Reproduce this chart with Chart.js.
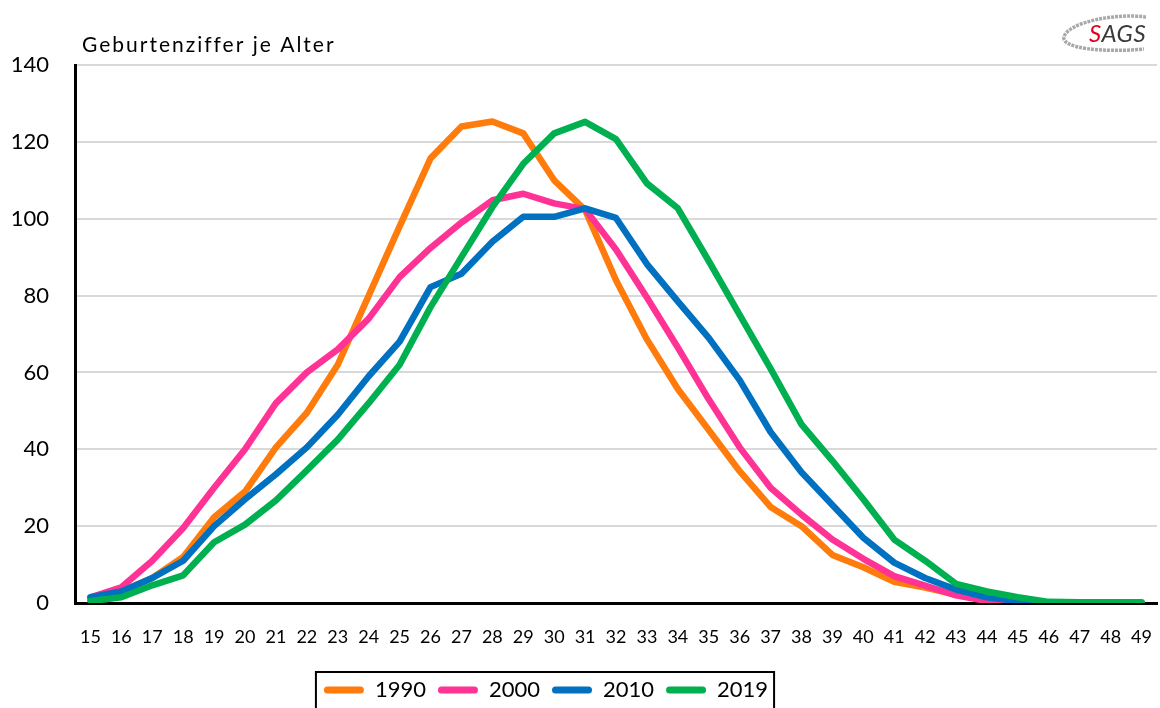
<!DOCTYPE html>
<html lang="de">
<head>
<meta charset="utf-8">
<title>Geburtenziffer je Alter</title>
<script src="https://cdn.jsdelivr.net/npm/chart.js@4"></script>
<style>
  html, body { margin: 0; padding: 0; background: #fff; }
  #wrap { position: relative; width: 1160px; height: 708px; overflow: hidden; }
  #logo { position: absolute; left: 1054px; top: 10px; width: 100px; height: 46px; }
  #logo svg { position: absolute; left: 0; top: 0; }
  #logo .txt { position: absolute; left: 35px; top: 8px; font: italic 24px Lato, sans-serif; color: #3a3a3a; letter-spacing: 0.5px; }
  #logo .txt span { color: #e3001b; }
</style>
</head>
<body>
<div id="wrap">
  <canvas id="chart-rates" width="1160" height="708"></canvas>
  <div id="logo">
    <svg width="100" height="46" viewBox="0 0 100 46">
      <path d="M92 7 C 62 3, 14 12, 10 27 C 7 38, 48 43, 90 39" fill="none" stroke="#8c8c8c" stroke-width="3.5" stroke-dasharray="3 1" opacity="0.75"/>
    </svg>
    <div class="txt"><span>S</span>AGS</div>
  </div>
</div>
<script>
// Geburtenziffer je Alter, Kurven 1990 / 2000 / 2010 / 2019

const ages = [15, 16, 17, 18, 19, 20, 21, 22, 23, 24, 25, 26, 27, 28, 29, 30, 31,
  32, 33, 34, 35, 36, 37, 38, 39, 40, 41, 42, 43, 44, 45, 46, 47, 48, 49];

const rates1990 = [1, 3, 6.5, 12, 22.3, 29, 40.5, 49.5, 62, 80, 98, 115.7, 124, 125.3,
  122.2, 110, 102.3, 84, 68.6, 55.7, 45, 34.3, 25, 20, 12.5, 9.3, 5.5, 4, 2.2, 0.8,
  0.3, 0, 0, 0, 0];
const rates2000 = [1.5, 4.1, 11, 19.5, 30, 40, 52, 60, 66, 74, 84.8, 92.4, 99, 104.8,
  106.5, 104, 102.5, 92, 79.5, 66.5, 53, 40.5, 30, 23, 16.5, 11.5, 7, 4.5, 2, 0.5,
  0.2, 0, 0, 0, 0];
const rates2010 = [1.5, 3, 6.5, 11, 20, 27, 33.5, 40.5, 49, 59, 68, 82.2, 85.7, 94,
  100.5, 100.5, 102.7, 100.2, 88.2, 78.5, 69, 58, 44.5, 34, 25.5, 17, 10.5, 6.5,
  3.5, 1.5, 0.5, 0, 0, 0, 0];
const rates2019 = [0.5, 1.5, 4.6, 7.2, 15.8, 20.4, 26.7, 34.5, 42.5, 52, 62, 77, 90,
  103, 114.3, 122.2, 125.2, 120.7, 109.2, 102.7, 89, 75, 61, 46.5, 37, 27, 16.5, 11,
  5, 3, 1.5, 0.3, 0.2, 0.2, 0.2];

const seriesNames = ["1990", "2000", "2010", "2019"];
const seriesColors = ["#ff7c0c", "#ff3396", "#0070c0", "#00b050"];
const yTicks = [0, 20, 40, 60, 80, 100, 120, 140];

const FONT = "Lato, 'Open Sans', sans-serif";

// Legende etwas nach links schieben (wie im Original), Rahmen + Titel zeichnen
const decorations = {
  id: "decorations",
  afterLayout(chart) {
    chart.legend.left = 0;
    chart.legend.right = 1092;
    chart.legend.top += 3;
    chart.legend.bottom += 3;
  },
  afterDraw(chart) {
    const ctx = chart.ctx;
    const area = chart.chartArea;

    ctx.save();
    ctx.fillStyle = "#000";
    ctx.font = "21px " + FONT;
    ctx.letterSpacing = "2px";
    ctx.textBaseline = "middle";
    ctx.textAlign = "left";
    ctx.fillText("Geburtenziffer je Alter", area.left + 7, 45);
    ctx.restore();

    const boxes = chart.legend.legendHitBoxes;
    if (!boxes || !boxes.length) return;
    const left = Math.min(...boxes.map((b) => b.left)) - 8;
    const right = Math.max(...boxes.map((b) => b.left + b.width)) + 6;
    const top = boxes[0].top - 7;
    ctx.save();
    ctx.strokeStyle = "#000";
    ctx.lineWidth = 2;
    ctx.strokeRect(left, top, right - left, chart.height - top + 10);
    ctx.restore();
  },
};

const ctx = document.getElementById("chart-rates").getContext("2d");

new Chart(ctx, {
  type: "line",
  data: {
    labels: ages,
    datasets: seriesNames.map((name, i) => ({
      label: name,
      data: [rates1990, rates2000, rates2010, rates2019][i],
      borderColor: seriesColors[i],
      backgroundColor: seriesColors[i],
      borderWidth: 6.5,
      borderCapStyle: "round",
      borderJoinStyle: "round",
      pointRadius: 0,
      tension: 0,
      order: seriesNames.length - i,
    })),
  },
  options: {
    responsive: false,
    animation: false,
    layout: {
      padding: { top: 65, left: 0, right: 3, bottom: 0 },
    },
    plugins: {
      title: { display: false },
      tooltip: { enabled: false },
      legend: {
        position: "bottom",
        labels: {
          color: "#000",
          font: { family: FONT, size: 22 },
          boxWidth: 40,
          boxHeight: 7,
          padding: 12,
          useBorderRadius: true,
          borderRadius: 3.5,
          generateLabels: function (chart) {
            return chart.data.datasets.map((ds, i) => ({
              text: ds.label,
              fillStyle: ds.borderColor,
              strokeStyle: ds.borderColor,
              lineWidth: 0,
              fontColor: "#000",
              hidden: false,
              datasetIndex: i,
              borderRadius: 3.5,
            }));
          },
        },
      },
    },
    scales: {
      x: {
        offset: true,
        grid: { display: false, drawTicks: false, offset: true },
        border: { display: true, color: "#000", width: 3 },
        ticks: {
          color: "#000",
          font: { family: FONT, size: 18 },
          padding: 23,
          maxRotation: 0,
          autoSkip: false,
        },
        afterFit: function (scale) {
          scale.height = Math.max(0, 105 - scale.chart.legend.height);
          scale.paddingLeft = 0;
          scale.paddingRight = 0;
        },
      },
      y: {
        min: 0,
        max: 140,
        grid: { color: "#d9d9d9", lineWidth: 2, drawTicks: false },
        border: { display: true, color: "#000", width: 3 },
        afterBuildTicks: function (scale) {
          scale.ticks = yTicks.map((v) => ({ value: v }));
        },
        ticks: {
          color: "#000",
          font: { family: FONT, size: 22 },
          padding: 26,
        },
        afterFit: function (scale) {
          scale.width = 75;
        },
      },
    },
  },
  plugins: [decorations],
});
</script>
</body>
</html>
